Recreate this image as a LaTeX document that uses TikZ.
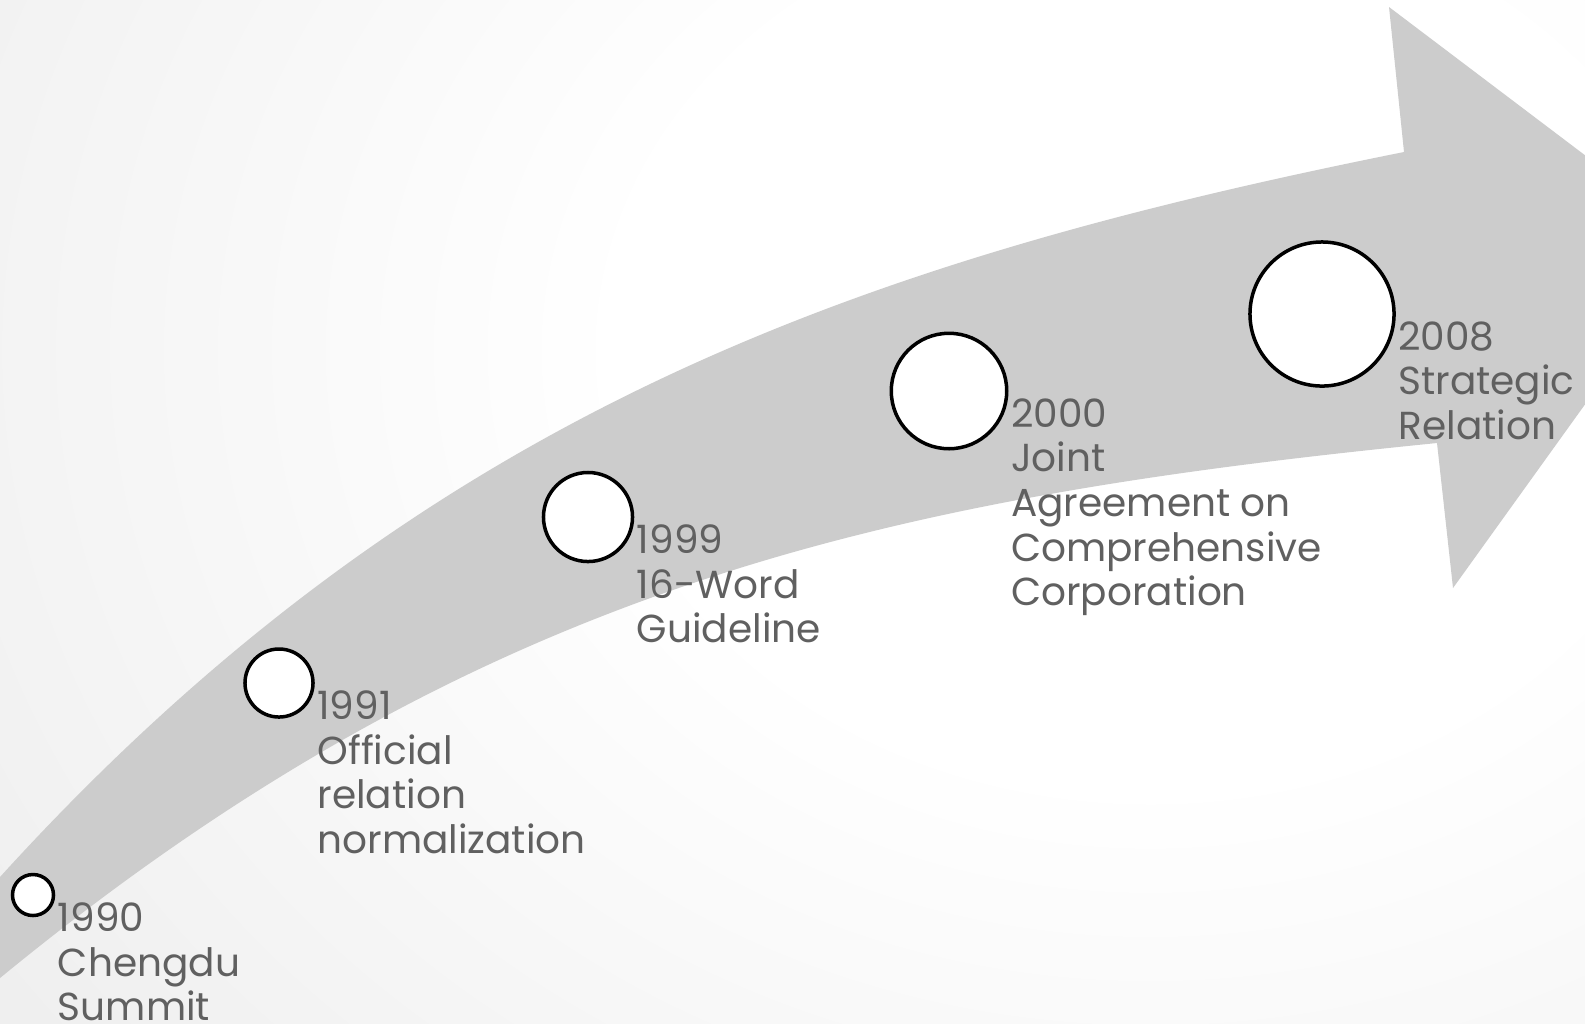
\documentclass[tikz,border=0pt]{standalone}
\usepackage{fontspec}
\setmainfont{Poppins}
\usetikzlibrary{calc}
\definecolor{bandgray}{RGB}{204,204,204}
\definecolor{txtgray}{RGB}{96,96,96}
\definecolor{bgouter}{RGB}{224,224,224}
\pgfdeclareradialshading{bgshade}{\pgfpointorigin}{color(0bp)=(white); color(6bp)=(white); color(25bp)=(bgouter); color(50bp)=(bgouter)}
\begin{document}
\begin{tikzpicture}[x=0.01cm,y=-0.01cm,
  dot/.style={circle, draw=black, fill=white, line width=0.035cm, inner sep=0pt},
  lbl/.style={anchor=north west, inner sep=0pt, align=left, text=txtgray,
    font=\fontsize{11.1pt}{12.66pt}\selectfont}]
\useasboundingbox (0,0) rectangle (1585,1023);
\clip (0,0) rectangle (1585,1023);
\fill[bgouter] (0,0) rectangle (1585,1023);
\shade[shading=bgshade] (1150,350) ellipse [x radius=2200, y radius=1800];
% curved arrow
\fill[bandgray] (-60,943) -- (0,877) .. controls (420,415) and (854,262) .. (1404,152)
  -- (1389,7) -- (1701,243) -- (1453,588) -- (1437,443)
  .. controls (887,498) and (480,584) .. (0,978) -- (-60,1027) -- cycle;
% milestones
\node[dot, minimum size=0.41cm]  (c1) at (33,895) {};
\node[dot, minimum size=0.68cm]  (c2) at (279,683) {};
\node[dot, minimum size=0.89cm]  (c3) at (588,517) {};
\node[dot, minimum size=1.154cm] (c4) at (949,391) {};
\node[dot, minimum size=1.44cm]  (c5) at (1322,314) {};
\node[lbl] (t1) at ($(c1.east)+(2,7)$) {1990\\Chengdu\\Summit};
\node[lbl] (t2) at ($(c2.east)+(2,7)$) {1991\\Official\\relation\\normalization};
\node[lbl] (t3) at ($(c3.east)+(2,7)$) {1999\\16-Word\\Guideline};
\node[lbl] (t4) at ($(c4.east)+(2,7)$) {2000\\Joint\\Agreement on\\Comprehensive\\Corporation};
\node[lbl] (t5) at ($(c5.east)+(2,7)$) {2008\\Strategic\\Relation};
\end{tikzpicture}
\end{document}
